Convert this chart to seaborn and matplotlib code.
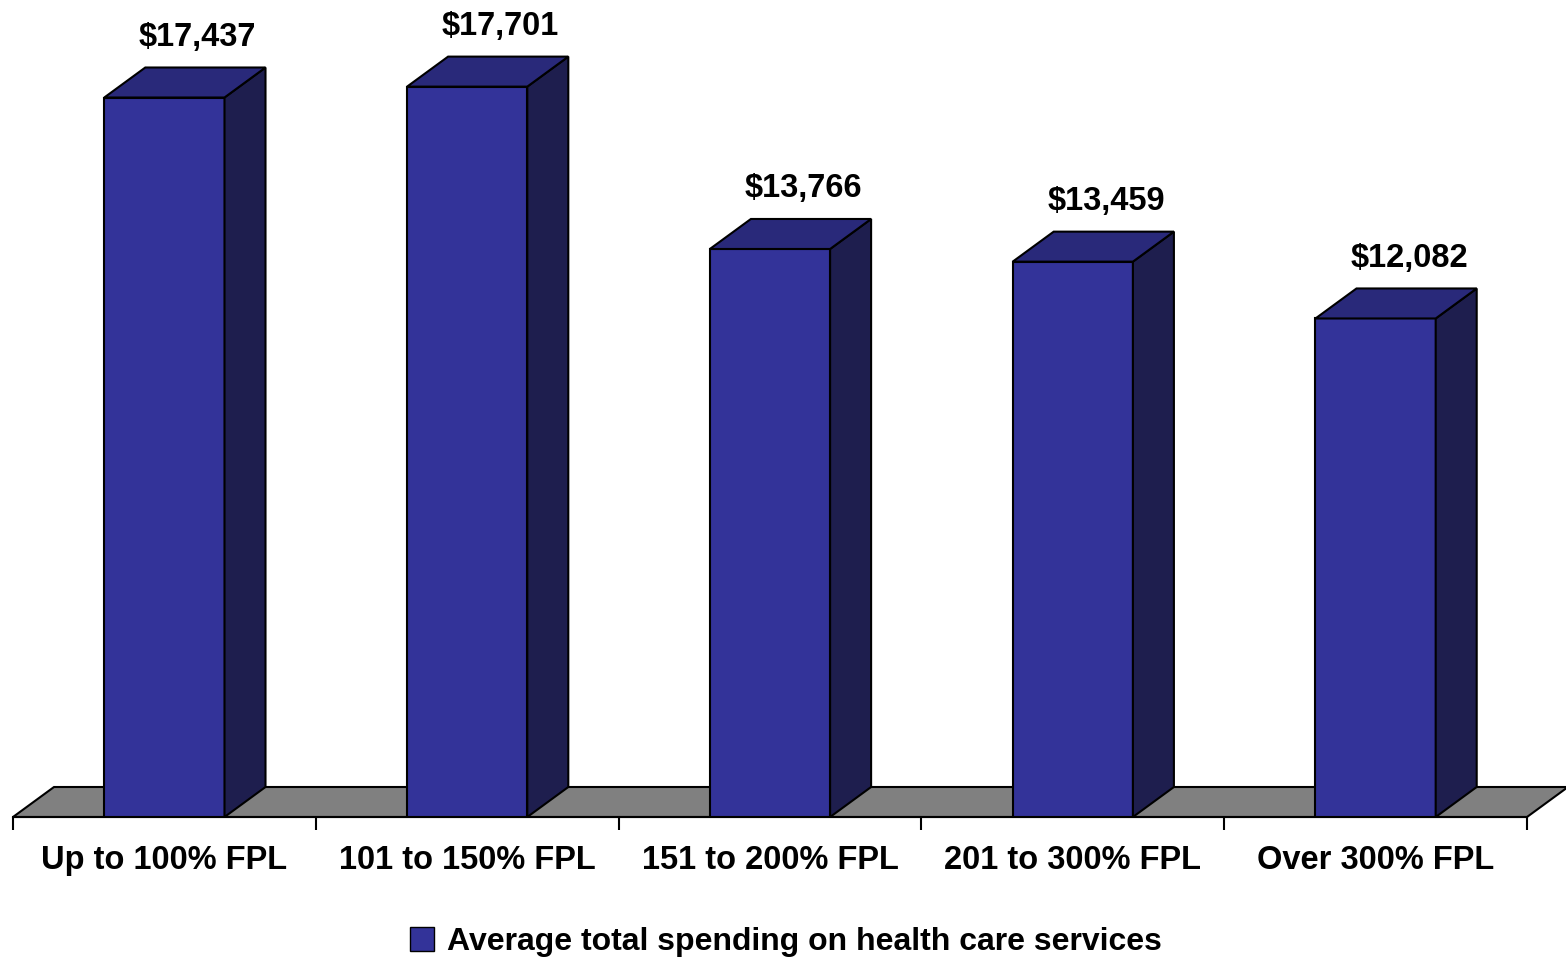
import matplotlib
matplotlib.use("Agg")
import matplotlib.pyplot as plt
import seaborn as sns
import pandas as pd
from matplotlib.patches import Polygon, Patch

# data
categories = ["Up to 100% FPL", "101 to 150% FPL", "151 to 200% FPL",
              "201 to 300% FPL", "Over 300% FPL"]
spending = [17437, 17701, 13766, 13459, 12082]
value_labels = ["$17,437", "$17,701", "$13,766", "$13,459", "$12,082"]
series_name = "Average total spending on health care services"

front_col = "#333399"
top_col = "#29297A"
side_col = "#1E1E4E"
floor_col = "#808080"

sns.set_style("white")
plt.rcParams['font.family'] = ['Liberation Sans', 'DejaVu Sans']
plt.rcParams['text.color'] = 'black'
plt.rcParams['xtick.color'] = 'black'

W, H = 1566, 957
fig = plt.figure(figsize=(W / 100, H / 100), dpi=100)
ax = fig.add_axes([13 / W, 140 / H, 1514 / W, 817 / H])

df = pd.DataFrame({"group": categories, "spending": spending})
sns.barplot(data=df, x="group", y="spending", color=front_col, saturation=1,
            width=0.397, edgecolor="black", linewidth=1.5, ax=ax, zorder=3)

ax.set_xlim(-0.5, 4.5)
ax.set_ylim(0, 19800)

# depth of the fake 3D effect, in data units
dx = 41 / (1514 / 5)
dy = 30 / (817 / 19800)

# floor
floor = Polygon([(-0.5, 0), (4.5, 0), (4.5 + dx, dy), (-0.5 + dx, dy)],
                closed=True, facecolor=floor_col, edgecolor="black",
                linewidth=1.5, zorder=1, clip_on=False)
ax.add_patch(floor)

# top and side faces of each bar
for p in list(ax.patches):
    if p is floor:
        continue
    x0, w, h = p.get_x(), p.get_width(), p.get_height()
    top = Polygon([(x0, h), (x0 + w, h), (x0 + w + dx, h + dy), (x0 + dx, h + dy)],
                  closed=True, facecolor=top_col, edgecolor="black",
                  linewidth=1.5, zorder=3, clip_on=False)
    side = Polygon([(x0 + w, 0), (x0 + w + dx, dy), (x0 + w + dx, h + dy), (x0 + w, h)],
                   closed=True, facecolor=side_col, edgecolor="black",
                   linewidth=1.5, zorder=3, clip_on=False)
    ax.add_patch(side)
    ax.add_patch(top)

# value labels above each bar
for i, (v, lab) in enumerate(zip(spending, value_labels)):
    ax.text(i + 0.11, v + dy + 360, lab, ha="center", va="bottom",
            fontsize=23.5, fontweight="bold", color="black", clip_on=False)

# axes styling
sns.despine(ax=ax, left=True, top=True, right=True)
ax.spines["bottom"].set_linewidth(1.5)
ax.spines["bottom"].set_color("black")
ax.set_yticks([])
ax.set_xlabel("")
ax.set_ylabel("")
ax.set_xticks(range(len(categories)))
ax.set_xticklabels(categories, fontsize=23.5, fontweight="bold", color="black")
ax.set_xticks([i - 0.5 for i in range(len(categories) + 1)], minor=True)
ax.tick_params(axis="x", which="major", length=0, pad=20)
ax.tick_params(axis="x", which="minor", length=9, width=1.5, color="black",
               direction="out", bottom=True)

# legend
fig.legend(handles=[Patch(facecolor=front_col, edgecolor="black", label=series_name)],
           loc="center", bbox_to_anchor=(786 / W, 15 / H), frameon=False,
           prop=dict(size=23, weight="bold"), handlelength=0.75,
           handleheight=0.75, handletextpad=0.4)

fig.savefig("out.png", dpi=100)
